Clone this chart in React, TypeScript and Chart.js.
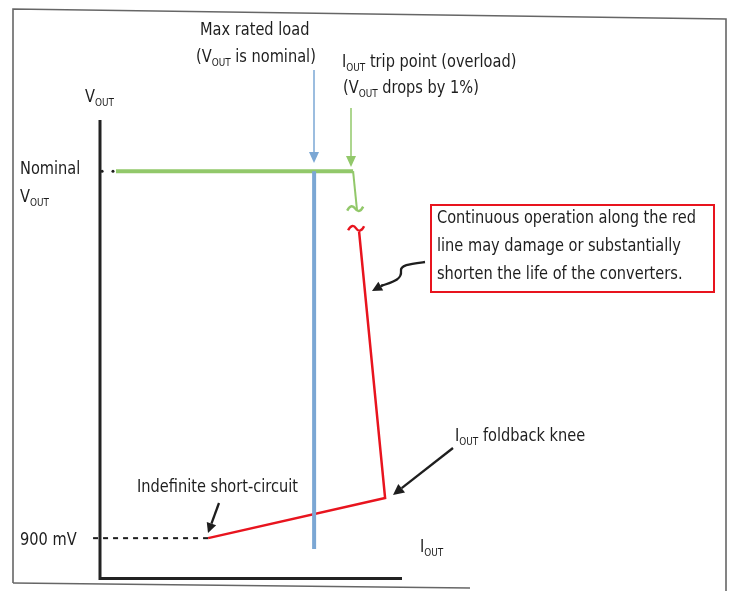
import React, { useEffect, useRef } from "react";
import { Chart, registerables } from "chart.js";

Chart.register(...registerables);

// Data in abstract units: I_OUT 0..100, V_OUT 0..100
const nominalV = 88.8;
const shortV = 8.5;
const nominalLine = [
  { x: 5.3, y: nominalV },
  { x: 83.8, y: nominalV },
];
const tripDrop = [
  { x: 83.8, y: nominalV },
  { x: 85.1, y: 80.3 },
];
const foldback = [
  { x: 85.8, y: 75.5 },
  { x: 94.4, y: 17.3 },
  { x: 35.8, y: shortV },
];
const maxRatedLoad = [
  { x: 70.9, y: nominalV },
  { x: 70.9, y: 6.1 },
];
const shortLevel = [
  { x: -2.3, y: shortV },
  { x: 35.8, y: shortV },
];
const nominalDots = [
  { x: -3.3, y: nominalV },
  { x: 0.7, y: nominalV },
  { x: 4.3, y: nominalV },
];
const tildes = [
  { x: 84.5, y: 80.6, color: "#92c86a" },
  { x: 84.8, y: 76.3, color: "#e8141e" },
];

const FONT = '"Liberation Sans Narrow", "DejaVu Sans Condensed", "Roboto Condensed", sans-serif';
const TXT = "#1e1e1e";
const SQUEEZE = 0.9;

type Part = [string, boolean?];

function drawParts(ctx: CanvasRenderingContext2D, parts: Part[], x: number, y: number, size = 18) {
  ctx.save();
  ctx.translate(x, y);
  ctx.scale(SQUEEZE, 1);
  let cx = 0;
  ctx.textBaseline = "middle";
  ctx.textAlign = "left";
  ctx.fillStyle = TXT;
  for (const [t, sub] of parts) {
    if (sub) {
      ctx.font = `${Math.round(size * 0.6)}px ${FONT}`;
      ctx.fillText(t, cx, size * 0.35);
    } else {
      ctx.font = `${size}px ${FONT}`;
      ctx.fillText(t, cx, 0);
    }
    cx += ctx.measureText(t).width;
  }
  ctx.restore();
}

function arrow(
  ctx: CanvasRenderingContext2D,
  x1: number,
  y1: number,
  x2: number,
  y2: number,
  color: string,
  lw: number,
  hl: number,
  hw: number
) {
  const a = Math.atan2(y2 - y1, x2 - x1);
  const bx = x2 - hl * Math.cos(a);
  const by = y2 - hl * Math.sin(a);
  ctx.strokeStyle = color;
  ctx.lineWidth = lw;
  ctx.beginPath();
  ctx.moveTo(x1, y1);
  ctx.lineTo(bx, by);
  ctx.stroke();
  ctx.fillStyle = color;
  ctx.beginPath();
  ctx.moveTo(x2, y2);
  ctx.lineTo(bx + hw * Math.sin(a), by - hw * Math.cos(a));
  ctx.lineTo(bx - hw * Math.sin(a), by + hw * Math.cos(a));
  ctx.closePath();
  ctx.fill();
}

const annotations = {
  id: "annotations",
  afterDatasetsDraw(chart: any) {
    const ctx: CanvasRenderingContext2D = chart.ctx;
    const { left, bottom, top } = chart.chartArea;
    const xs = chart.scales.x;
    const ys = chart.scales.y;
    ctx.save();

    // frame
    ctx.strokeStyle = "#666";
    ctx.lineWidth = 1.6;
    ctx.beginPath();
    ctx.moveTo(13, 583);
    ctx.lineTo(13, 9);
    ctx.lineTo(726, 19);
    ctx.lineTo(726, 591);
    ctx.stroke();
    ctx.beginPath();
    ctx.moveTo(13, 583);
    ctx.lineTo(470, 588);
    ctx.stroke();

    // axes
    ctx.strokeStyle = "#222";
    ctx.lineWidth = 3;
    ctx.beginPath();
    ctx.moveTo(left, top);
    ctx.lineTo(left, bottom + 1.5);
    ctx.lineTo(402, bottom + 1.5);
    ctx.stroke();

    // tildes
    for (const t of tildes) {
      const px = xs.getPixelForValue(t.x);
      const py = ys.getPixelForValue(t.y);
      ctx.strokeStyle = t.color;
      ctx.lineWidth = 2.4;
      ctx.beginPath();
      ctx.moveTo(px - 8, py + 2);
      ctx.bezierCurveTo(px - 5, py - 4, px - 2, py - 3, px, py);
      ctx.bezierCurveTo(px + 2, py + 3, px + 5, py + 4, px + 8, py - 2);
      ctx.stroke();
    }

    // arrows
    arrow(ctx, 314, 70, 314, 163, "#7ba7d4", 1.5, 11, 5);
    arrow(ctx, 351, 108, 351, 167, "#92c86a", 1.5, 11, 5);
    arrow(ctx, 219, 503, 208, 533, "#1e1e1e", 2.3, 10, 5);
    arrow(ctx, 453, 448, 393, 495, "#1e1e1e", 2.3, 11, 5.5);

    // curly arrow
    ctx.strokeStyle = "#1e1e1e";
    ctx.lineWidth = 2.3;
    ctx.beginPath();
    ctx.moveTo(425, 262);
    ctx.bezierCurveTo(410, 264, 400, 265, 401, 271);
    ctx.bezierCurveTo(402, 280, 392, 282, 381, 286);
    ctx.stroke();
    arrow(ctx, 383, 285, 372, 291, "#1e1e1e", 2.3, 10, 5);

    // red box
    ctx.strokeStyle = "#e8141e";
    ctx.lineWidth = 2;
    ctx.strokeRect(431, 205, 283, 87);
    drawParts(ctx, [["Continuous operation along the red"]], 437, 218);
    drawParts(ctx, [["line may damage or substantially"]], 437, 246);
    drawParts(ctx, [["shorten the life of the converters."]], 437, 274);

    // labels
    drawParts(ctx, [["Max rated load"]], 200, 30);
    drawParts(ctx, [["(V"], ["OUT", true], [" is nominal)"]], 196, 57);
    drawParts(ctx, [["I"], ["OUT", true], [" trip point (overload)"]], 342, 62);
    drawParts(ctx, [["(V"], ["OUT", true], [" drops by 1%)"]], 343, 88);
    drawParts(ctx, [["V"], ["OUT", true]], 85, 97);
    drawParts(ctx, [["Nominal"]], 20, 169);
    drawParts(ctx, [["V"], ["OUT", true]], 20, 197);
    drawParts(ctx, [["900 mV"]], 20, 540);
    drawParts(ctx, [["Indefinite short-circuit"]], 137, 487);
    drawParts(ctx, [["I"], ["OUT", true], [" foldback knee"]], 455, 436);
    drawParts(ctx, [["I"], ["OUT", true]], 420, 547);

    ctx.restore();
  },
};

export default function App() {
  const ref = useRef<HTMLCanvasElement | null>(null);
  useEffect(() => {
    document.body.style.margin = "0";
    const canvas = ref.current!;
    const line = (data: any[], color: string, width: number, dash: number[] = []) => ({
      type: "line" as const,
      data,
      borderColor: color,
      borderWidth: width,
      borderDash: dash,
      pointRadius: 0,
      showLine: true,
      fill: false,
      tension: 0,
      clip: false as any,
    });
    const chart = new Chart(canvas, {
      type: "scatter",
      data: {
        datasets: [
          line(shortLevel, "#1e1e1e", 2, [5, 5]),
          line(maxRatedLoad, "#7ba7d4", 4),
          line(nominalLine, "#92c86a", 4),
          line(tripDrop, "#92c86a", 2),
          line(foldback, "#e8141e", 2.5),
          {
            type: "scatter" as const,
            data: nominalDots,
            pointRadius: 1.5,
            pointBackgroundColor: "#1e1e1e",
            pointBorderWidth: 0,
            clip: false as any,
          },
        ],
      },
      options: {
        animation: false,
        responsive: false,
        devicePixelRatio: 1,
        layout: { padding: { left: 100, right: 328, top: 120, bottom: 14 } },
        scales: {
          x: { type: "linear", min: 0, max: 100, display: false },
          y: { type: "linear", min: 0, max: 100, display: false },
        },
        plugins: { legend: { display: false }, tooltip: { enabled: false } },
      },
      plugins: [annotations],
    });
    return () => chart.destroy();
  }, []);
  return (
    <div style={{ width: 730, height: 591, background: "#fff" }}>
      <canvas ref={ref} width={730} height={591} />
    </div>
  );
}
